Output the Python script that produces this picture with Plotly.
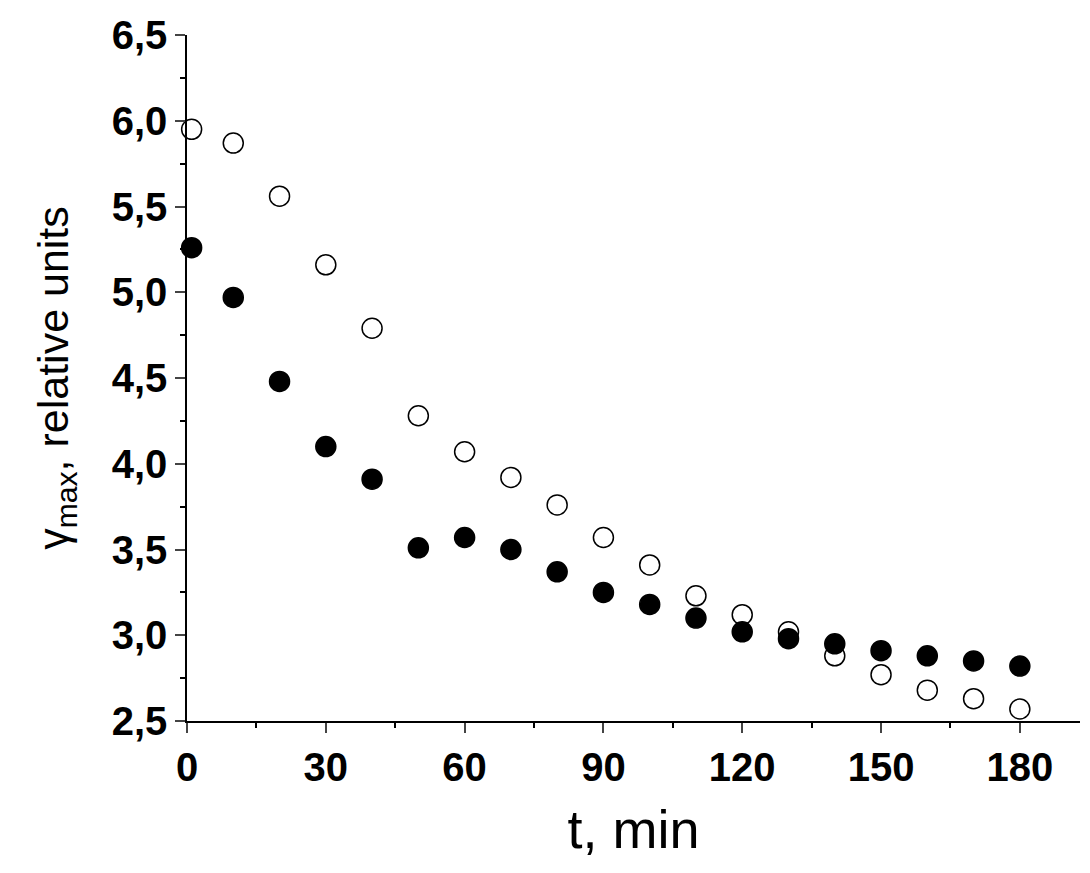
import plotly.graph_objects as go

t = [1, 10, 20, 30, 40, 50, 60, 70, 80, 90, 100, 110, 120, 130, 140, 150, 160, 170, 180]
open_vals = [5.95, 5.87, 5.56, 5.16, 4.79, 4.28, 4.07, 3.92, 3.76, 3.57, 3.41, 3.23, 3.12, 3.02, 2.88, 2.77, 2.68, 2.63, 2.57]
filled_vals = [5.26, 4.97, 4.48, 4.10, 3.91, 3.51, 3.57, 3.50, 3.37, 3.25, 3.18, 3.10, 3.02, 2.98, 2.95, 2.91, 2.88, 2.85, 2.82]
xticks = [0, 30, 60, 90, 120, 150, 180]
yticks = [2.5, 3.0, 3.5, 4.0, 4.5, 5.0, 5.5, 6.0, 6.5]
ylabels = ["<b>" + f"{v:.1f}".replace(".", ",") + "</b>" for v in yticks]
xlabels = [f"<b>{v}</b>" for v in xticks]

fig = go.Figure()
fig.add_trace(go.Scatter(x=t, y=open_vals, mode="markers", cliponaxis=False,
                         marker=dict(size=20, color="white", line=dict(color="black", width=1.5))))
fig.add_trace(go.Scatter(x=t, y=filled_vals, mode="markers", cliponaxis=False,
                         marker=dict(size=20, color="black", line=dict(color="black", width=1.5))))
tickfont = dict(family="Liberation Sans, Arial", size=40, color="black")
fig.update_layout(
    width=1074, height=857, showlegend=False, plot_bgcolor="white", paper_bgcolor="white",
    margin=dict(l=179, r=2, t=27, b=144),
    xaxis=dict(range=[0, 193], tickvals=xticks, ticktext=xlabels, ticks="outside", ticklen=10, tickwidth=1.5,
               showline=True, linecolor="black", linewidth=1.5, showgrid=False, zeroline=False,
               tickfont=tickfont, minor=dict(dtick=15, tick0=0, ticks="outside", ticklen=5, tickcolor="black"),
               title=dict(text="t, min", font=dict(family="Liberation Sans, Arial", size=54, color="black"), standoff=22)),
    yaxis=dict(range=[2.5, 6.5], tickvals=yticks, ticktext=ylabels, ticks="outside", ticklen=10, tickwidth=1.5,
               showline=True, linecolor="black", linewidth=1.5, showgrid=False, zeroline=False,
               tickfont=tickfont, minor=dict(dtick=0.25, tick0=2.5, ticks="outside", ticklen=5, tickcolor="black"),
               title=dict(text="γ<sub>max</sub>, relative units", font=dict(family="Liberation Sans, Arial", size=43, color="black"), standoff=30)),
)
fig.write_html("out.html", config={"responsive": False})
